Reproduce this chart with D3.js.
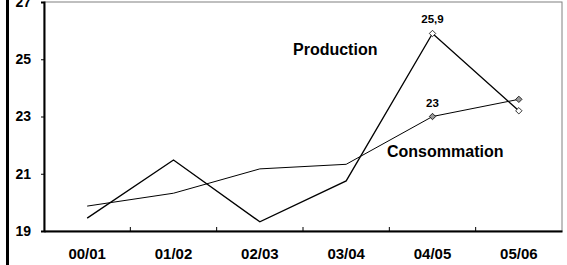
<!DOCTYPE html>
<html>
<head>
<meta charset="utf-8">
<script src="https://cdn.jsdelivr.net/npm/d3@7"></script>
<style>
  body { margin: 0; background: #fff; }
  svg text { font-family: "Liberation Sans", Arial, sans-serif; font-weight: bold; fill: #000; }
</style>
</head>
<body>
<div class="chart"></div>
<script>
const categories = ["00/01", "01/02", "02/03", "03/04", "04/05", "05/06"];
const production = [19.45, 21.48, 19.32, 20.75, 25.9, 23.2];
const consommation = [19.87, 20.32, 21.17, 21.33, 23.0, 23.6];
const yTicks = [19, 21, 23, 25, 27];

const width = 567, height = 265;
const margin = {top: 2, right: 5, bottom: 34, left: 44};
const w = width - margin.left - margin.right;
const h = height - margin.top - margin.bottom;

const svg = d3.select('.chart')
    .append('svg')
    .attr('width', width)
    .attr('height', height);

// outer frame left edge
svg.append("line")
    .attr("x1", 7.5).attr("x2", 7.5)
    .attr("y1", 0).attr("y2", height)
    .attr("stroke", "#000")
    .attr("stroke-width", 3);

const g = svg.append("g")
    .attr("transform", "translate(" + margin.left + "," + margin.top + ")");

const xScale = d3.scaleBand().domain(categories).range([0, w]);
const yScale = d3.scaleLinear().domain([19, 27]).range([h, 0]);

// plot border (top/right gray)
g.append("rect")
    .attr("x", 0).attr("y", 0)
    .attr("width", w).attr("height", h)
    .attr("fill", "none")
    .attr("stroke", "#808080")
    .attr("stroke-width", 1);

// Y axis
const yAxis = g.append("g")
    .call(d3.axisLeft(yScale).tickValues(yTicks).tickSize(3).tickPadding(10).tickFormat(d3.format("d")));
yAxis.select(".domain").attr("stroke", "#000").attr("stroke-width", 2);
yAxis.selectAll("text").style("font-size", "14px");

// X axis
const xAxis = g.append("g")
    .attr("transform", "translate(0," + h + ")")
    .call(d3.axisBottom(xScale).tickSize(0).tickPadding(17));
xAxis.select(".domain").attr("stroke", "#000").attr("stroke-width", 2);
xAxis.selectAll("text").style("font-size", "15px");

// category boundary ticks (pointing up)
g.selectAll(".xtick")
    .data(categories.slice(1))
    .enter()
    .append("line")
    .attr("x1", function(d){ return xScale(d); })
    .attr("x2", function(d){ return xScale(d); })
    .attr("y1", h).attr("y2", h - 4)
    .attr("stroke", "#000");

const cx = function(d, i){ return xScale(categories[i]) + xScale.bandwidth() / 2; };

const line = d3.line()
    .x(function(d, i){ return cx(d, i); })
    .y(function(d){ return yScale(d); });

g.append("path")
    .datum(consommation)
    .attr("fill", "none")
    .attr("stroke", "#000")
    .attr("stroke-width", 1)
    .attr("d", line);

g.append("path")
    .datum(production)
    .attr("fill", "none")
    .attr("stroke", "#000")
    .attr("stroke-width", 1.3)
    .attr("d", line);

// diamond markers on last two points
const diamond = d3.symbol().type(d3.symbolDiamond2).size(26);
[[consommation, "#999"], [production, "#fff"]].forEach(function(s){
    g.selectAll(null)
        .data(s[0].map(function(v, i){ return {v: v, i: i}; }).slice(4))
        .enter()
        .append("path")
        .attr("d", diamond)
        .attr("transform", function(d){ return "translate(" + cx(d.v, d.i) + "," + yScale(d.v) + ")"; })
        .attr("fill", s[1])
        .attr("stroke", "#000")
        .attr("stroke-width", 0.8);
});

// value labels
g.append("text")
    .attr("x", cx(production[4], 4))
    .attr("y", yScale(production[4]) - 10)
    .attr("text-anchor", "middle")
    .style("font-size", "11.5px")
    .text("25,9");
g.append("text")
    .attr("x", cx(consommation[4], 4))
    .attr("y", yScale(consommation[4]) - 10)
    .attr("text-anchor", "middle")
    .style("font-size", "11.5px")
    .text("23");

// series labels
svg.append("text")
    .attr("x", 293).attr("y", 55)
    .style("font-size", "16px")
    .text("Production");
svg.append("text")
    .attr("x", 387).attr("y", 157)
    .style("font-size", "16px")
    .text("Consommation");
</script>
</body>
</html>
